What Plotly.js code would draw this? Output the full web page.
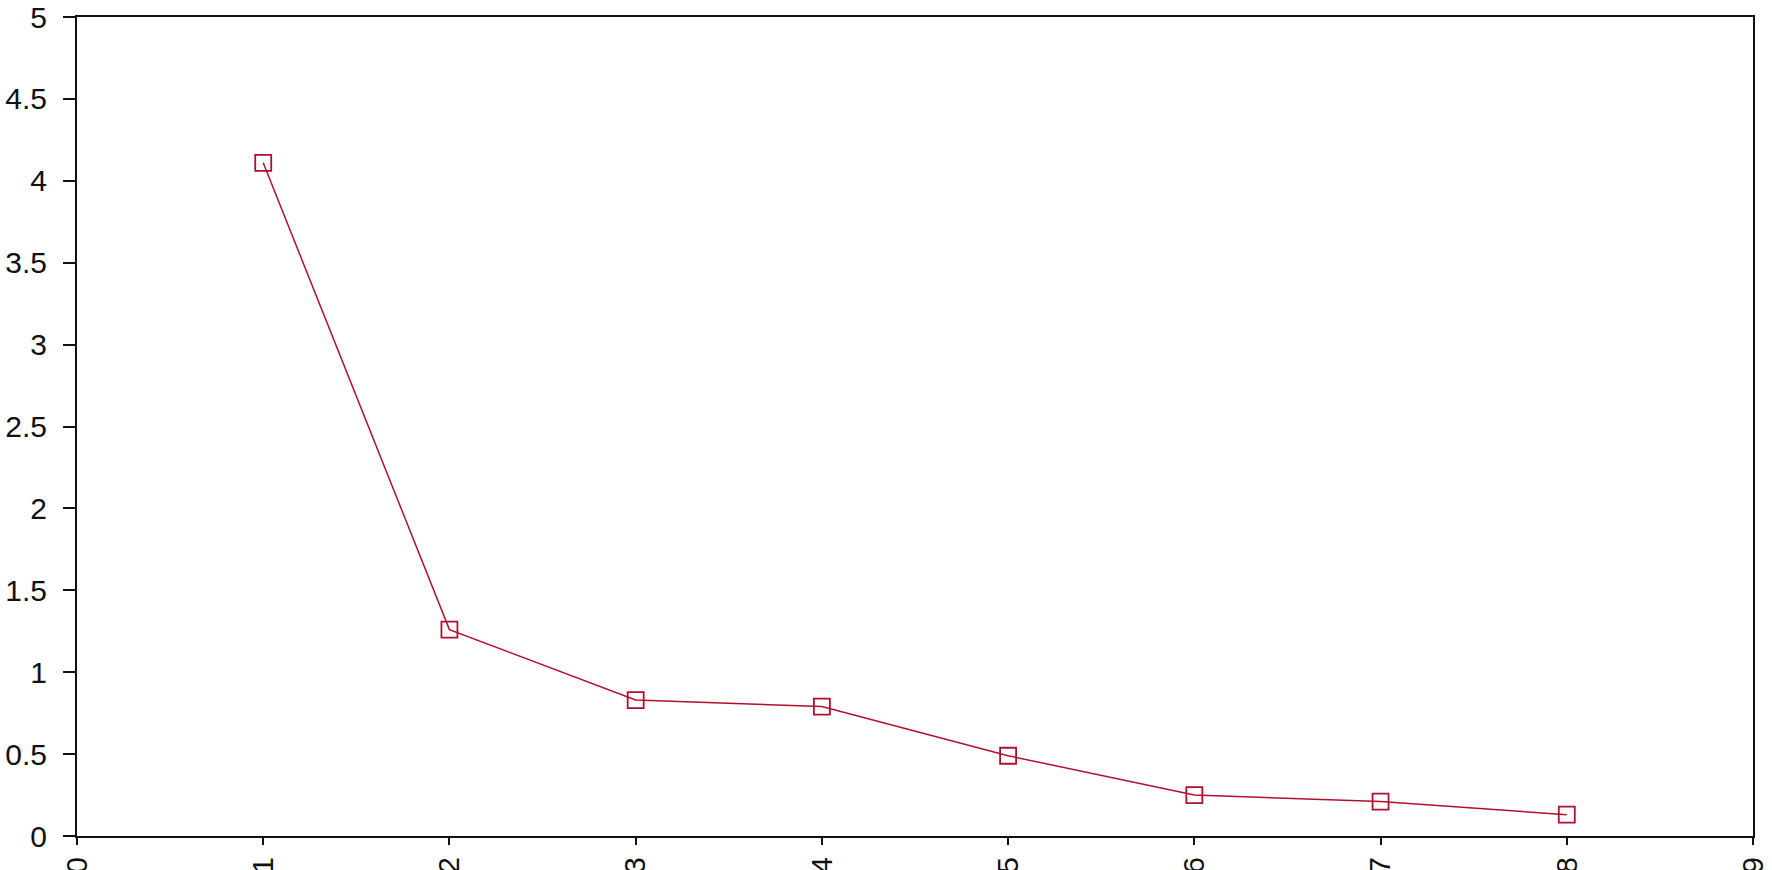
<!DOCTYPE html>
<html>
<head>
<meta charset="utf-8">
<script src="https://cdn.plot.ly/plotly-3.0.1.min.js"></script>
<style>
  html, body { margin: 0; padding: 0; background: #fff; }
  #chart { width: 1772px; height: 870px; }
</style>
</head>
<body>
<div id="chart"></div>
<script>
// component number vs eigenvalue (scree-style)
const components = [1, 2, 3, 4, 5, 6, 7, 8];
const values = [4.11, 1.26, 0.83, 0.79, 0.49, 0.25, 0.21, 0.13];

const lineColor = '#b0102c';

const trace = {
    x: components,
    y: values,
    mode: 'lines+markers',
    line: { color: lineColor, width: 1.5 },
    marker: {
        symbol: 'square-open',
        size: 16,
        color: lineColor,
        line: { color: lineColor, width: 1.8 }
    },
    showlegend: false,
    hoverinfo: 'x+y'
};

const axisFont = { family: 'Liberation Sans, Arial, sans-serif', size: 30, color: '#111' };

const layout = {
    width: 1772,
    height: 870,
    margin: { l: 77, r: 19, t: 17, b: 34 },
    paper_bgcolor: '#fff',
    plot_bgcolor: '#fff',
    xaxis: {
        range: [0, 9],
        tick0: 0,
        dtick: 1,
        ticks: 'outside',
        ticklen: 7,
        tickwidth: 2,
        tickcolor: '#111',
        tickangle: -90,
        tickfont: axisFont,
        ticklabelstandoff: 0,
        showgrid: false,
        zeroline: false,
        showline: true,
        linecolor: '#111',
        linewidth: 2,
        mirror: true
    },
    yaxis: {
        range: [0, 5],
        tick0: 0,
        dtick: 0.5,
        ticks: 'outside',
        ticklen: 12,
        tickwidth: 2,
        tickcolor: '#111',
        tickfont: axisFont,
        ticklabelstandoff: 10,
        showgrid: false,
        zeroline: false,
        showline: true,
        linecolor: '#111',
        linewidth: 2,
        mirror: true
    }
};

Plotly.newPlot('chart', [trace], layout, { displayModeBar: false, staticPlot: true });
</script>
</body>
</html>
